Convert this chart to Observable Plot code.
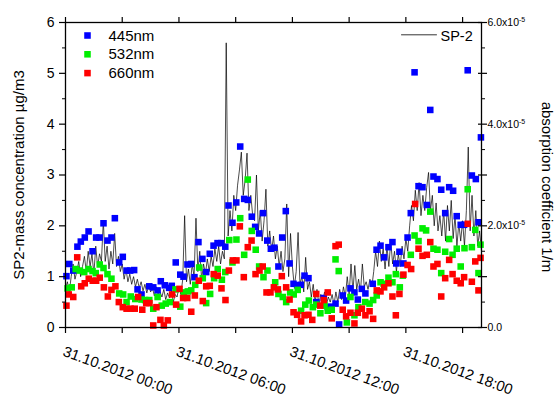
<!DOCTYPE html>
<html><head><meta charset="utf-8">
<script src="https://cdn.jsdelivr.net/npm/d3@7"></script>
<script src="https://cdn.jsdelivr.net/npm/@observablehq/plot@0.6"></script>
<style>body{margin:0;background:#fff}</style>
</head><body><div id="chart"></div>
<script>
// ---- data ----
const seriesNames = ["445nm", "532nm", "660nm"];
const seriesColors = ["#0000ff", "#00ee00", "#ff0000"];

// absorption coefficient, in units of 1e-5 1/m; time in hours after 31.10.2012 00:00
const blueHours = [0.05,0.20,0.41,0.63,0.81,1.02,1.22,1.43,1.62,1.80,2.01,2.22,2.43,2.61,2.84,3.03,3.23,3.42,3.63,3.81,4.02,4.43,4.64,4.87,5.04,5.25,5.48,5.62,5.83,6.07,6.24,6.45,6.65,6.82,7.03,7.24,7.44,7.63,7.83,8.04,8.23,8.45,8.62,8.83,9.03,9.24,9.45,9.64,9.85,10.03,10.24,10.45,10.67,10.86,11.05,11.26,11.46,11.65,11.85,12.06,12.25,12.44,12.64,12.85,13.26,13.66,13.87,14.05,14.28,14.47,14.66,14.84,15.07,15.28,15.46,15.67,15.86,16.25,16.45,16.66,16.85,17.08,17.29,17.49,17.66,17.87,18.09,18.26,18.46,18.67,18.88,19.11,19.29,19.46,19.67,19.87,20.08,20.29,20.50,20.69,20.90,21.08,21.27,21.49,21.70,21.84,21.97];
const blueAbs = [1.01,1.25,1.12,1.59,1.69,1.77,1.89,1.50,1.77,1.77,2.05,1.71,1.77,2.15,1.28,1.39,1.12,1.12,1.13,0.75,0.65,0.81,0.79,0.73,0.91,0.83,0.78,0.82,1.28,1.04,1.00,1.24,1.25,0.99,1.68,1.35,1.09,1.45,1.61,1.66,1.66,1.59,2.40,2.06,2.46,3.56,2.53,2.51,2.18,1.98,1.85,2.25,1.71,1.55,1.57,1.20,1.77,2.29,1.26,0.86,0.83,0.84,1.02,0.97,0.50,0.58,0.40,0.41,0.47,0.06,0.63,0.53,0.77,0.69,0.55,0.76,0.67,0.86,1.53,1.61,1.38,1.58,1.68,1.26,1.49,1.26,1.77,2.25,5.02,2.78,2.76,2.41,4.28,2.97,2.92,2.71,2.25,2.76,2.69,2.19,2.02,2.02,5.06,2.99,2.92,2.07,3.74];

const greenHours = [0.11,0.33,0.54,0.76,0.99,1.22,1.43,1.60,1.81,2.01,2.22,2.43,2.84,3.05,3.23,3.45,3.69,4.02,4.21,4.43,4.64,4.87,5.09,5.30,5.52,5.82,6.07,6.26,6.47,6.65,6.86,7.07,7.26,7.44,7.65,7.86,8.05,8.27,8.45,8.66,8.83,9.04,9.24,9.45,9.64,9.85,10.06,10.24,10.47,10.68,11.09,11.26,11.49,11.67,11.88,12.07,12.28,12.46,12.68,12.87,13.08,13.26,13.48,13.70,13.87,14.08,14.28,14.45,14.88,15.07,15.28,15.49,15.85,16.08,16.27,16.46,16.66,16.83,17.08,17.29,17.47,17.68,17.84,18.26,18.46,18.67,18.88,19.07,19.29,19.46,19.67,19.87,20.08,20.29,20.47,20.69,20.90,21.10,21.27,21.49,21.67,21.84,21.95];
const greenAbs = [0.77,0.79,1.15,1.12,1.09,1.15,1.11,1.07,1.24,1.17,1.05,0.96,0.67,0.65,0.50,0.61,0.56,0.55,0.54,0.54,0.37,0.60,0.43,0.47,0.50,0.75,0.41,0.69,0.71,0.73,0.84,1.18,0.97,0.48,0.66,0.97,1.15,0.94,1.09,1.72,1.28,1.73,2.15,1.43,2.91,1.90,1.53,1.20,0.99,1.12,0.89,0.66,0.60,0.50,0.69,0.65,0.74,0.33,0.45,0.53,0.40,0.45,0.28,0.43,0.33,0.35,1.34,1.11,0.10,0.60,0.24,0.40,0.50,0.47,0.54,0.63,0.89,0.86,0.98,0.89,1.05,0.79,1.02,1.43,1.81,1.70,1.95,1.91,2.28,1.55,1.53,1.07,1.49,1.74,1.43,1.55,1.20,1.56,2.72,1.58,1.92,1.07,1.63];

const redHours = [0.05,0.17,0.41,0.62,0.83,1.02,1.23,1.44,1.62,1.81,2.03,2.24,2.43,2.64,2.82,3.03,3.23,3.44,3.66,3.84,4.06,4.27,4.44,4.64,4.81,5.02,5.20,5.41,5.64,5.85,6.03,6.22,6.44,6.65,6.84,7.05,7.26,7.44,7.63,7.84,8.05,8.25,8.46,8.64,8.85,9.04,9.22,9.43,9.64,9.84,10.05,10.26,10.43,10.63,10.84,11.02,11.23,11.44,11.67,11.85,12.06,12.25,12.46,12.64,12.85,13.05,13.26,13.47,13.66,13.87,14.08,14.28,14.45,14.66,14.84,15.07,15.28,15.46,15.67,15.86,16.08,16.27,16.46,16.66,16.85,17.08,17.29,17.47,17.66,17.87,18.09,18.28,18.49,18.67,18.88,19.11,19.29,19.46,19.67,19.87,20.08,20.29,20.47,20.69,20.90,21.08,21.27,21.49,21.67,21.84,21.95];
const redAbs = [0.43,0.65,0.60,1.38,0.81,0.87,0.96,0.92,0.92,0.98,0.79,0.61,0.74,0.81,0.50,0.40,0.37,0.37,0.37,0.60,0.35,0.48,0.48,0.04,0.40,0.15,0.04,0.14,0.65,0.45,0.76,0.58,0.58,0.31,0.63,0.92,0.52,0.81,0.82,1.05,1.02,0.77,0.54,1.12,1.32,1.32,1.99,0.99,1.58,1.71,1.05,1.12,1.20,0.69,0.69,0.79,0.75,1.01,0.79,0.55,0.30,0.25,0.12,0.24,0.25,0.15,0.66,0.43,0.54,0.69,0.18,1.60,1.63,0.35,0.22,0.29,0.08,0.29,0.37,0.24,0.32,0.17,0.73,0.71,0.79,0.87,0.61,0.24,0.66,1.04,1.23,1.15,2.43,1.55,1.41,1.43,1.68,1.20,1.25,0.61,0.97,1.33,1.05,0.92,0.87,0.99,2.04,0.90,1.30,0.73,1.37];

// SP-2 mass concentration (µg/m3), sampled every 0.1 h from 00:00
const spStartHour = 0;
const spStepHour = 0.1;
const spMass = [
0.75,0.9,0.7,1.0,1.25,0.95,1.1,1.3,1.0,1.2,
1.4,1.1,1.5,1.2,1.45,1.05,1.6,1.2,1.45,1.3,
2.1,1.3,1.6,1.15,1.5,1.25,1.85,1.2,1.4,1.1,
1.25,0.95,1.15,0.9,1.05,0.85,1.0,0.8,0.95,0.78,
0.9,0.72,0.85,0.68,0.82,0.7,0.78,0.62,0.8,0.65,
0.7,0.6,0.75,0.55,0.68,0.58,0.72,0.5,0.65,0.6,
0.8,0.65,0.95,2.2,0.9,1.15,0.85,1.25,1.0,2.15,
1.1,1.5,0.95,1.25,1.05,1.35,1.1,1.4,1.2,1.55,
1.3,1.6,1.25,1.5,1.35,5.6,1.8,2.3,1.9,2.6,
2.3,2.8,3.1,3.45,2.6,2.9,3.43,2.3,2.6,2.2,
2.1,3.0,1.9,2.3,1.7,2.1,2.72,1.6,1.9,1.5,
1.8,1.35,1.6,1.2,1.5,1.1,1.35,2.43,1.0,1.85,
1.2,0.8,1.1,1.87,0.85,1.0,0.7,1.38,0.75,0.9,
0.6,0.85,0.5,0.75,0.45,0.65,0.5,0.7,0.45,0.6,
0.5,0.65,0.45,0.7,0.5,0.75,0.55,0.8,0.6,1.0,
0.65,1.25,0.7,1.22,0.75,0.95,0.7,1.25,0.8,0.9,
0.75,0.95,0.8,1.1,1.5,1.2,1.7,1.3,1.55,1.15,
1.6,1.2,1.7,1.25,1.5,1.1,1.45,1.2,1.6,1.35,
1.75,1.5,2.0,2.4,2.1,2.7,2.3,2.85,2.2,2.6,
2.3,2.75,3.05,2.3,2.6,2.0,2.45,1.9,2.2,1.8,
2.3,1.7,2.4,1.9,2.5,1.75,2.2,1.6,2.05,1.7,
2.1,1.6,2.3,3.55,1.9,2.6,1.8,2.3,1.6,1.9,
1.5];
const lineName = "SP-2";

const xTickHours = [0, 6, 12, 18];
const xTickLabels = ["31.10.2012 00:00", "31.10.2012 06:00", "31.10.2012 12:00", "31.10.2012 18:00"];
const xMinorHours = [0, 3, 6, 9, 12, 15, 18, 21];
const leftTicks = [0, 1, 2, 3, 4, 5, 6];
const leftMinorTicks = [0.5, 1.5, 2.5, 3.5, 4.5, 5.5];
const rightTickValues = [0, 2, 4, 6];
const rightTickLabels = ["0.0", "2.0x10", "4.0x10", "6.0x10"];
const rightTickExponents = ["", "-5", "-5", "-5"];
const rightMajorTicks = [0, 1, 2, 3, 4, 5, 6];
const yTitleLeft = "SP2-mass concentration µg/m3";
const yTitleRight = "absorption coefficient 1/m";

// ---- tables ----
const toRows = (hs, vs) => hs.map((h, i) => ({h, v: vs[i]}));
const series = [toRows(blueHours, blueAbs), toRows(greenHours, greenAbs), toRows(redHours, redAbs)];
const spRows = spMass.map((v, i) => ({h: spStartHour + i * spStepHour, v}));

const font = "'Liberation Sans', Arial, sans-serif";
const noText = () => "";

const marks = [
  Plot.line(spRows, {x: "h", y: "v", stroke: "#000", strokeWidth: 0.7}),
  ...series.map((rows, i) => Plot.dot(rows, {x: "h", y: "v", symbol: "square", r: 3.7, fill: seriesColors[i], stroke: null})),
  Plot.frame({stroke: "#000", strokeWidth: 1.3}),
  // left axis
  Plot.axisY({ticks: leftTicks, tickSize: 6, tickPadding: 5, fontSize: 14, label: null, strokeWidth: 1.2, tickFormat: d3.format("d")}),
  Plot.axisY({ticks: leftMinorTicks, tickSize: 3, tickFormat: noText, label: null}),
  // right axis
  Plot.axisY({anchor: "right", ticks: rightMajorTicks, tickSize: 9, insetRight: 4, tickFormat: noText, label: null, strokeWidth: 1.2}),
  Plot.axisY({anchor: "right", ticks: leftMinorTicks, tickSize: 3, tickFormat: noText, label: null}),
  Plot.text(rightTickValues, {y: d => d, text: (d, i) => rightTickLabels[i], frameAnchor: "right", dx: 6, textAnchor: "start", lineAnchor: "middle", fontSize: 10.5}),
  // x axes
  Plot.axisX({ticks: xMinorHours, tickSize: 6, tickFormat: noText, label: null, strokeWidth: 1.2}),
  Plot.axisX({anchor: "top", ticks: xMinorHours, tickSize: 6, tickFormat: noText, label: null, strokeWidth: 1.2}),
  Plot.text(xTickHours, {x: d => d, text: (d, i) => xTickLabels[i], frameAnchor: "bottom", dx: 0, dy: 18, rotate: 20, textAnchor: "start", lineAnchor: "top", fontSize: 14.8}),
  // titles
  Plot.text([yTitleLeft], {text: d => d, frameAnchor: "left", dx: -46, rotate: -90, textAnchor: "middle", lineAnchor: "middle", fontSize: 15}),
  Plot.text([yTitleRight], {text: d => d, frameAnchor: "right", dx: 65, dy: 12, rotate: 90, textAnchor: "middle", lineAnchor: "middle", fontSize: 15}),
  // legend left
  ...seriesNames.map((name, i) => Plot.dot([name], {frameAnchor: "top-left", dx: 22, dy: 13 + 18.8 * i, symbol: "square", r: 3.7, fill: seriesColors[i], stroke: null})),
  ...seriesNames.map((name, i) => Plot.text([name], {text: d => d, frameAnchor: "top-left", dx: 43, dy: 13.3 + 18.8 * i, textAnchor: "start", lineAnchor: "middle", fontSize: 15})),
  // legend right
  Plot.vector([lineName], {frameAnchor: "top-right", dx: -80, dy: 12.3, length: 35, rotate: 90, anchor: "start", stroke: "#000", strokeWidth: 0.8,
    shape: {draw(context, l) { context.moveTo(0, 0); context.lineTo(0, -l); }}}),
  Plot.text([lineName], {text: d => d, frameAnchor: "top-right", dx: -41, dy: 13.5, textAnchor: "start", lineAnchor: "middle", fontSize: 14.5})
];

const svg = Plot.plot({
  width: 555, height: 394,
  marginLeft: 65, marginRight: 74, marginTop: 22, marginBottom: 67,
  x: {domain: [0, 22], axis: null},
  y: {domain: [0, 6], axis: null},
  style: {fontFamily: font, background: "#fff", color: "#000", overflow: "visible"},
  marks
});

// superscript exponents on the right-axis labels
d3.select(svg).selectAll("text").each(function () {
  const i = rightTickLabels.indexOf(this.textContent);
  if (i >= 0 && rightTickExponents[i] && this.childElementCount === 0) {
    d3.select(this).append("tspan").attr("dy", "-0.55em").attr("font-size", "7px").text(rightTickExponents[i]);
  }
});

document.getElementById("chart").appendChild(svg);
</script>
</body></html>
